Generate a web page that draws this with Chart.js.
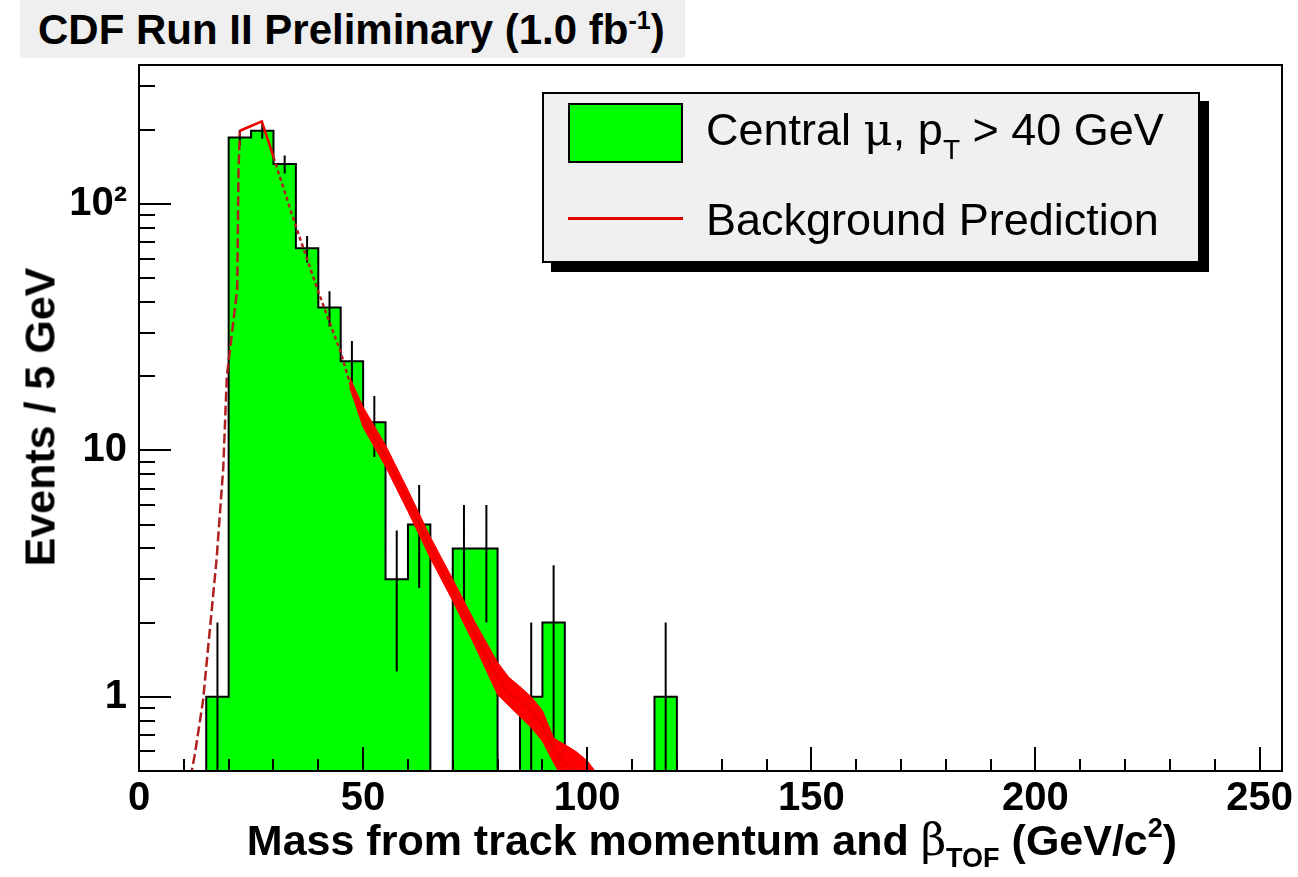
<!DOCTYPE html>
<html>
<head>
<meta charset="utf-8">
<script src="https://cdn.jsdelivr.net/npm/chart.js@4.4.1/dist/chart.umd.min.js"></script>
<style>
  body { margin: 0; background: #fff; }
  #wrap { position: relative; width: 1298px; height: 877px; font-family: "Liberation Sans", Arial, sans-serif; color: #000; }
  #chart { position: absolute; left: 0; top: 0; }
  .sym { font-family: "DejaVu Serif", "Liberation Serif", serif; font-weight: normal; }
  #title { position: absolute; left: 20px; top: 0; width: 665px; height: 58px; background: #efefef;
           font-weight: bold; font-size: 42px; line-height: 60px; padding-left: 18px; box-sizing: border-box; white-space: nowrap; }
  #title sup { font-size: 25px; vertical-align: 15px; line-height: 0; }
  #ytitle { position: absolute; left: 40px; top: 417px; transform: translate(-50%, -50%) rotate(-90deg);
            font-weight: bold; font-size: 43px; white-space: nowrap; line-height: 43px; }
  #xtitle { position: absolute; left: 712px; top: 818px; transform: translateX(-50%);
            font-weight: bold; font-size: 43px; white-space: nowrap; line-height: 43px; }
  #xtitle sub { font-size: 27px; vertical-align: -12px; line-height: 0; }
  #xtitle sup { font-size: 27px; vertical-align: 18px; line-height: 0; }
  #xtitle .sym { font-size: 44px; }
  #legend { position: absolute; left: 542px; top: 92px; width: 658px; height: 171px; background: #f0f0f0;
            border: 2px solid #000; box-sizing: border-box; box-shadow: 9px 9px 0 #000; }
  #legend .sw { position: absolute; left: 24px; top: 9px; width: 115px; height: 60px; background: #00ff00; border: 2px solid #000; box-sizing: border-box; }
  #legend .ln { position: absolute; left: 24px; top: 123px; width: 115px; height: 3px; background: #e00000; }
  #legend .tx { position: absolute; left: 162px; font-size: 45px; line-height: 45px; white-space: nowrap; }
  #legend sub { font-size: 28px; vertical-align: -14px; line-height: 0; }
</style>
</head>
<body>
<div id="wrap">
  <canvas id="chart" width="1298" height="877"></canvas>
  <div id="title">CDF Run II Preliminary (1.0 fb<sup>-1</sup>)</div>
  <div id="ytitle">Events / 5 GeV</div>
  <div id="xtitle">Mass from track momentum and <span class="sym">β</span><sub>TOF</sub> (GeV/c<sup>2</sup>)</div>
  <div id="legend">
    <div class="sw"></div>
    <div class="tx" style="top:13px">Central <span class="sym">μ</span>, p<sub>T</sub> &gt; 40 GeV</div>
    <div class="ln"></div>
    <div class="tx" style="top:103px">Background Prediction</div>
  </div>
</div>
<script>
// histogram: 5 GeV bins, lower edges and event counts
const binLow = [15, 20, 25, 30, 35, 40, 45, 50, 55, 60, 65, 70, 75, 80, 85, 90, 95, 100, 105, 110, 115];
const counts = [1, 186, 198, 145, 66, 38, 23, 13, 3, 5, 0, 4, 4, 0, 1, 2, 0, 0, 0, 0, 1];
const binWidth = 5;

// background prediction (central curve)
const bgMass = [11.5, 12.5, 14.3, 15.8, 17.3, 18.8, 19.6, 21.9, 22.2, 22.5, 25, 27.4, 30, 35, 40, 45, 47,
                50, 55, 60, 65, 70, 75, 80, 82.5, 85, 87.5, 90, 92.5, 95, 97.5, 100, 102.5];
const bgValue = [0.47, 0.59, 0.97, 1.87, 3.6, 8.5, 20, 45, 135, 198, 207, 216, 155, 81, 44, 25, 18.9,
                 13.6, 9.5, 6.3, 4.0, 2.7, 1.8, 1.2, 1.05, 0.96, 0.87, 0.77, 0.61, 0.54, 0.49, 0.45, 0.4];

// background uncertainty band
const bandMass = [47, 50, 55, 60, 65, 70, 75, 80, 82.5, 85, 87.5, 90, 92.5, 95, 97.5, 100, 102.5, 105];
const bandHigh = [19.8, 15.0, 10.5, 6.9, 4.45, 3.0, 2.0, 1.38, 1.2, 1.1, 1.0, 0.88, 0.68, 0.64, 0.6, 0.55, 0.48, 0.42];
const bandLow  = [18.0, 12.4, 8.6, 5.65, 3.65, 2.45, 1.6, 1.02, 0.92, 0.83, 0.75, 0.66, 0.54, 0.45, 0.4, 0.36, 0.32, 0.28];

// axis ticks
const xMajor = [0, 50, 100, 150, 200, 250];
const yMajor = [1, 10, 100];
const yLabels = ['1', '10', '10²'];
const yMinor = [0.6, 0.7, 0.8, 0.9, 2, 3, 4, 5, 6, 7, 8, 9, 20, 30, 40, 50, 60, 70, 80, 90, 200, 300];

// log axis drops zeros, so empty bins sit just below the axis floor
const FLOOR = 1e-3;

// histogram outline as step points
const histPoints = [{ x: binLow[0], y: FLOOR }];
binLow.forEach((lo, i) => histPoints.push({ x: lo, y: counts[i] > 0 ? counts[i] : FLOOR }));
histPoints.push({ x: binLow[binLow.length - 1] + binWidth, y: FLOOR });

// sqrt(N) error bars, broken with nulls
const errPoints = [];
binLow.forEach((lo, i) => {
  const n = counts[i];
  if (n <= 0) return;
  const c = lo + binWidth / 2;
  errPoints.push({ x: c, y: Math.max(n - Math.sqrt(n), FLOOR) }, { x: c, y: n + Math.sqrt(n) }, { x: c, y: null });
});

const bgPoints = bgMass.map((m, i) => ({ x: m, y: bgValue[i] }));
const hiPoints = bandMass.map((m, i) => ({ x: m, y: bandHigh[i] }));
const loPoints = bandMass.map((m, i) => ({ x: m, y: bandLow[i] }));

const frameTicks = {
  id: 'frameTicks',
  afterDraw(chart) {
    const { ctx, chartArea: a, scales: { x, y } } = chart;
    ctx.save();
    ctx.strokeStyle = '#000';
    ctx.lineWidth = 2;
    ctx.beginPath();
    for (let v = 10; v <= 250; v += 10) {
      const px = Math.round(x.getPixelForValue(v));
      const len = xMajor.includes(v) ? 24 : 12;
      ctx.moveTo(px, a.bottom); ctx.lineTo(px, a.bottom - len);
    }
    yMajor.forEach(v => {
      const py = Math.round(y.getPixelForValue(v));
      ctx.moveTo(a.left, py); ctx.lineTo(a.left + 32, py);
    });
    yMinor.forEach(v => {
      const py = Math.round(y.getPixelForValue(v));
      ctx.moveTo(a.left, py); ctx.lineTo(a.left + 16, py);
    });
    ctx.stroke();
    ctx.strokeRect(a.left, a.top, a.right - a.left, a.bottom - a.top);
    ctx.restore();
  }
};

new Chart(document.getElementById('chart'), {
  type: 'line',
  data: {
    datasets: [
      {
        label: 'Background Prediction',
        data: bgPoints,
        borderColor: '#ee0000',
        borderWidth: 2.5,
        pointRadius: 0,
        fill: false,
        segment: {
          borderDash: c => c.p1.parsed.x <= 22.5 ? [10, 4] : (c.p0.parsed.x >= 30 && c.p1.parsed.x <= 47 ? [4, 3] : undefined),
          borderColor: c => (c.p1.parsed.x <= 22.5 || (c.p0.parsed.x >= 30 && c.p1.parsed.x <= 47)) ? '#b02020' : undefined
        }
      },
      {
        label: 'band high',
        data: hiPoints,
        borderColor: '#ff0000',
        borderWidth: 1,
        backgroundColor: '#ff0000',
        pointRadius: 0,
        fill: '+1'
      },
      {
        label: 'band low',
        data: loPoints,
        borderColor: '#ff0000',
        borderWidth: 1,
        pointRadius: 0,
        fill: false
      },
      {
        label: 'errors',
        data: errPoints,
        borderColor: '#000',
        borderWidth: 2,
        pointRadius: 0,
        spanGaps: false,
        fill: false
      },
      {
        label: 'Central mu, pT > 40 GeV',
        data: histPoints,
        stepped: 'before',
        borderColor: '#000',
        borderWidth: 2,
        backgroundColor: '#00ff00',
        pointRadius: 0,
        fill: 'start'
      }
    ]
  },
  options: {
    responsive: false,
    animation: false,
    layout: { padding: { top: 65, right: 16, left: 0, bottom: 0 } },
    plugins: { legend: { display: false }, tooltip: { enabled: false } },
    scales: {
      x: {
        type: 'linear',
        min: 0,
        max: 255,
        afterFit: s => { s.height = 106; },
        afterBuildTicks: s => { s.ticks = xMajor.map(v => ({ value: v })); },
        grid: { display: false, drawTicks: false },
        border: { display: false },
        ticks: {
          color: '#000',
          padding: 4,
          maxRotation: 0,
          autoSkip: false,
          font: { family: 'Liberation Sans', size: 40, weight: 'bold' }
        }
      },
      y: {
        type: 'logarithmic',
        min: 0.5,
        max: 366,
        afterFit: s => { s.width = 139; },
        afterBuildTicks: s => { s.ticks = yMajor.map(v => ({ value: v })); },
        grid: { display: false, drawTicks: false },
        border: { display: false },
        ticks: {
          color: '#000',
          padding: 12,
          autoSkip: false,
          callback: (v, i) => yLabels[i],
          font: { family: 'Liberation Sans', size: 40, weight: 'bold' }
        }
      }
    }
  },
  plugins: [frameTicks]
});
</script>
</body>
</html>
